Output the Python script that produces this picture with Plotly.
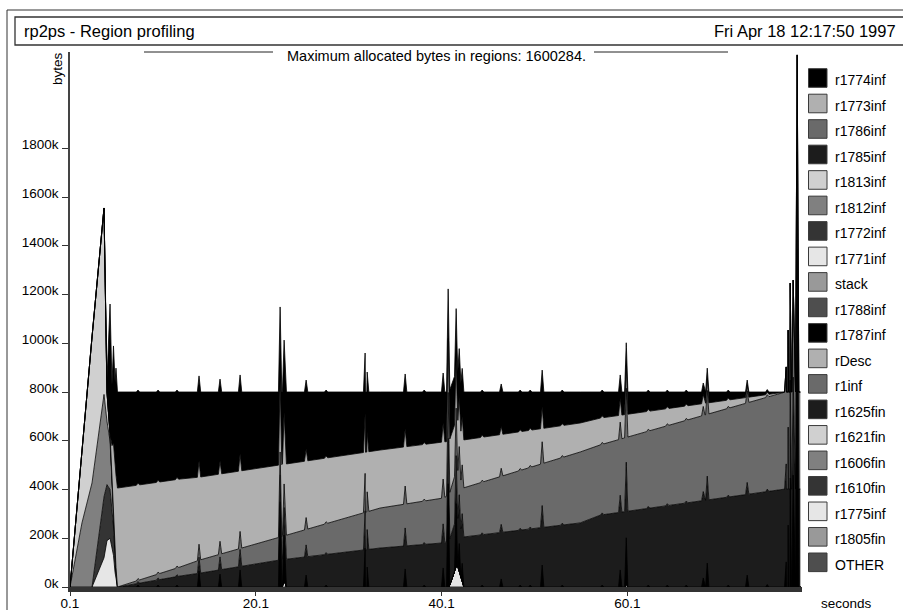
import plotly.graph_objects as go

# ---------------- data (values in kbytes, time in seconds) ----------------
legend_names = ["r1774inf", "r1773inf", "r1786inf", "r1785inf", "r1813inf",
                "r1812inf", "r1772inf", "r1771inf", "stack", "r1788inf",
                "r1787inf", "rDesc", "r1inf", "r1625fin", "r1621fin",
                "r1606fin", "r1610fin", "r1775inf", "r1805fin", "OTHER"]
legend_colors = ["#000000", "#b0b0b0", "#6a6a6a", "#1c1c1c", "#d0d0d0",
                 "#808080", "#343434", "#e6e6e6", "#999999", "#4e4e4e",
                 "#000000", "#b0b0b0", "#6a6a6a", "#1c1c1c", "#d0d0d0",
                 "#808080", "#343434", "#e6e6e6", "#999999", "#4e4e4e"]

# start-up phase
t_start = [0.10, 1.39, 2.47, 3.76, 4.08, 4.41, 4.62, 4.78, 4.95, 5.05, 5.21]
r1771inf_v = [0, 0, 0, 120, 190, 200, 160, 130, 60, 30, 0]
r1772inf_v = [0, 0, 0, 250, 230, 200, 150, 120, 60, 30, 0]
r1812inf_v = [0, 263, 427, 420, 260, 200, 120, 90, 50, 20, 0]
r1813inf_v = [0, 311, 599, 765, 120, 30, 0, 0, 0, 0, 0]
r1773inf_start = [0, 0, 0, 0, 0, 0, 150, 250, 330, 380]
r1774inf_start = [0, 0, 0, 0, 50, 531, 250, 399, 340, 438]

# main phase
t_main = [5.21, 11.95, 14.10, 22.72, 33.49, 40.27, 42.42, 55.03, 57.18, 77.10, 78.72]
r1785inf_v = [0, 45, 57, 111, 160, 181, 205, 263, 295, 402, 402]
r1786inf_v = [0, 37, 54, 94, 164, 184, 201, 291, 288, 398, 398]
r1773inf_main = [406, 361, 340, 296, 238, 230, 197, 119, 110, 0, 0]
r1774inf_main = [394, 357, 349, 299, 238, 205, 197, 127, 107, 0, 0]

# short-lived allocations (spikes) of r1787inf
spike_t = [7.42, 9.58, 11.62, 13.99, 16.25, 18.41, 22.72, 23.15, 25.52, 27.67,
           31.87, 32.09, 36.18, 38.23, 40.27, 40.81, 41.67, 42.00, 42.32, 44.47,
           46.52, 48.56, 49.64, 50.93, 53.09, 57.39, 59.33, 59.98, 62.35, 64.40,
           66.44, 68.27, 68.70, 70.96, 73.00, 75.16, 77.20, 77.41, 77.63, 77.95,
           78.38]
spike_h = [8, 8, 8, 66, 53, 70, 349, 185, 49, 8,
           160, 82, 74, 8, 78, 423, 259, 116, 79, 8,
           33, 8, 8, 90, 8, 8, 70, 189, 8, 8,
           8, 37, 98, 8, 49, 10, 103, 254, 447, 459,
           1383]

# r1775inf bursts
r1775inf_t = [22.95, 23.15, 23.40, 40.90, 41.77, 42.45, 59.85, 60.00, 60.15]
r1775inf_v = [0, 28, 0, 0, 94, 0, 0, 15, 0]

# regions that stay empty
empty_t = [0.10, 78.72]
empty_v = [0, 0]

x_tickvals = [0.1, 20.1, 40.1, 60.1]
x_ticktext = ["0.1", "20.1", "40.1", "60.1"]
y_tickvals = [0, 200, 400, 600, 800, 1000, 1200, 1400, 1600, 1800]
y_ticktext = ["0k", "200k", "400k", "600k", "800k", "1000k", "1200k", "1400k", "1600k", "1800k"]

# ---------------- build series ----------------
SPIKE_HALF = 0.18


def spike_series(ts, hs, w):
    pts = []
    for i, (t, h) in enumerate(zip(ts, hs)):
        pts.append((t, h))
        if i == 0 or t - w > ts[i - 1]:
            pts.append((t - w, 0))
        if i == len(ts) - 1 or t + w < ts[i + 1]:
            pts.append((t + w, 0))
    pts.sort()
    return [p[0] for p in pts], [p[1] for p in pts]


sp_x, sp_y = spike_series(spike_t, spike_h, SPIKE_HALF)

data = {n: (empty_t, empty_v) for n in legend_names}
data["r1771inf"] = (t_start, r1771inf_v)
data["r1772inf"] = (t_start, r1772inf_v)
data["r1812inf"] = (t_start, r1812inf_v)
data["r1813inf"] = (t_start, r1813inf_v)
data["r1773inf"] = (t_start[:-1] + t_main, r1773inf_start + r1773inf_main)
data["r1774inf"] = (t_start[:-1] + t_main, r1774inf_start + r1774inf_main)
data["r1785inf"] = (t_main, r1785inf_v)
data["r1786inf"] = (t_main, r1786inf_v)
data["r1787inf"] = (sp_x, sp_y)
data["r1775inf"] = (r1775inf_t, r1775inf_v)

color_of = dict(zip(legend_names, legend_colors))

fig = go.Figure()
for name in reversed(legend_names):
    xs, ys = data[name]
    fig.add_trace(go.Scatter(
        x=xs, y=ys, name=name, mode="lines", stackgroup="one",
        stackgaps="interpolate",
        line=dict(color="#000000", width=0.8),
        fillcolor=color_of[name], showlegend=False, hoverinfo="skip"))

# ---------------- layout ----------------
W, H = 903, 610
L, R, T, B = 70, 802, 52, 587
FONT = "Liberation Sans, Arial, Helvetica, sans-serif"


def px(x):
    return (x - L) / (R - L)


def py(y):
    return (B - y) / (B - T)


shapes = []
annotations = []

# outer frame and header box
shapes.append(dict(type="rect", xref="paper", yref="paper", x0=px(7), x1=px(930),
                   y0=py(10), y1=py(640), line=dict(color="#333333", width=1)))
shapes.append(dict(type="rect", xref="paper", yref="paper", x0=px(15), x1=px(930),
                   y0=py(17), y1=py(45), line=dict(color="#333333", width=1.3)))
shapes.append(dict(type="line", xref="paper", yref="paper", x0=px(144), x1=px(273),
                   y0=py(52), y1=py(52), line=dict(color="#222222", width=1)))
shapes.append(dict(type="line", xref="paper", yref="paper", x0=px(594), x1=px(728),
                   y0=py(52), y1=py(52), line=dict(color="#222222", width=1)))

annotations.append(dict(xref="paper", yref="paper", x=px(22), y=py(31), xanchor="left",
                        yanchor="middle", showarrow=False, text="rp2ps - Region profiling",
                        font=dict(family=FONT, size=16.5, color="#000")))
annotations.append(dict(xref="paper", yref="paper", x=px(898), y=py(31), xanchor="right",
                        yanchor="middle", showarrow=False, text="Fri Apr 18 12:17:50 1997",
                        font=dict(family=FONT, size=16.5, color="#000")))
annotations.append(dict(xref="paper", yref="paper", x=px(436), y=py(56), xanchor="center",
                        yanchor="middle", showarrow=False,
                        text="Maximum allocated bytes in regions: 1600284.",
                        font=dict(family=FONT, size=14.5, color="#000")))
annotations.append(dict(xref="paper", yref="paper", x=px(57), y=py(69), xanchor="center",
                        yanchor="middle", showarrow=False, text="bytes", textangle=-90,
                        font=dict(family=FONT, size=13.5, color="#000")))
annotations.append(dict(xref="paper", yref="paper", x=px(847), y=py(603), xanchor="center",
                        yanchor="middle", showarrow=False, text="seconds",
                        font=dict(family=FONT, size=13.5, color="#000")))

# legend
PITCH = 25.49
for i, (name, col) in enumerate(zip(legend_names, legend_colors)):
    cy = 78 + PITCH * i
    shapes.append(dict(type="rect", xref="paper", yref="paper",
                       x0=px(808.5), x1=px(827), y0=py(cy - 9.3), y1=py(cy + 9.3),
                       fillcolor=col, line=dict(color="#3a3a3a", width=1)))
    annotations.append(dict(xref="paper", yref="paper", x=px(833), y=py(cy + 2.5),
                            xanchor="left", yanchor="middle", showarrow=False, text=name,
                            font=dict(family=FONT, size=14, color="#000")))

fig.update_layout(
    width=W, height=H,
    margin=dict(l=L, r=W - R, t=T, b=H - B, pad=0, autoexpand=False),
    paper_bgcolor="white", plot_bgcolor="white",
    showlegend=False,
    shapes=shapes, annotations=annotations,
    font=dict(family=FONT, size=13.5, color="#000"),
    xaxis=dict(range=[0.1, 78.9], tickvals=x_tickvals, ticktext=x_ticktext,
               showline=True, linewidth=5, linecolor="#333333",
               ticks="outside", ticklen=4, tickcolor="#333333", tickwidth=1,
               ticklabelstandoff=-4,
               showgrid=False, zeroline=False, fixedrange=True, automargin=False,
               tickfont=dict(family=FONT, size=13.5, color="#000")),
    yaxis=dict(range=[0, 2195], tickvals=y_tickvals, ticktext=y_ticktext,
               showline=True, linewidth=1.5, linecolor="#444444",
               ticks="outside", ticklen=6, tickcolor="#333333", tickwidth=1,
               ticklabelshift=-4, ticklabelstandoff=1,
               showgrid=False, zeroline=False, fixedrange=True, automargin=False,
               tickfont=dict(family=FONT, size=13.5, color="#000")),
)

fig.write_html(
    "out.html",
    config={"displayModeBar": False},
    post_script="document.body.style.margin='0';document.body.style.overflow='hidden';",
)
